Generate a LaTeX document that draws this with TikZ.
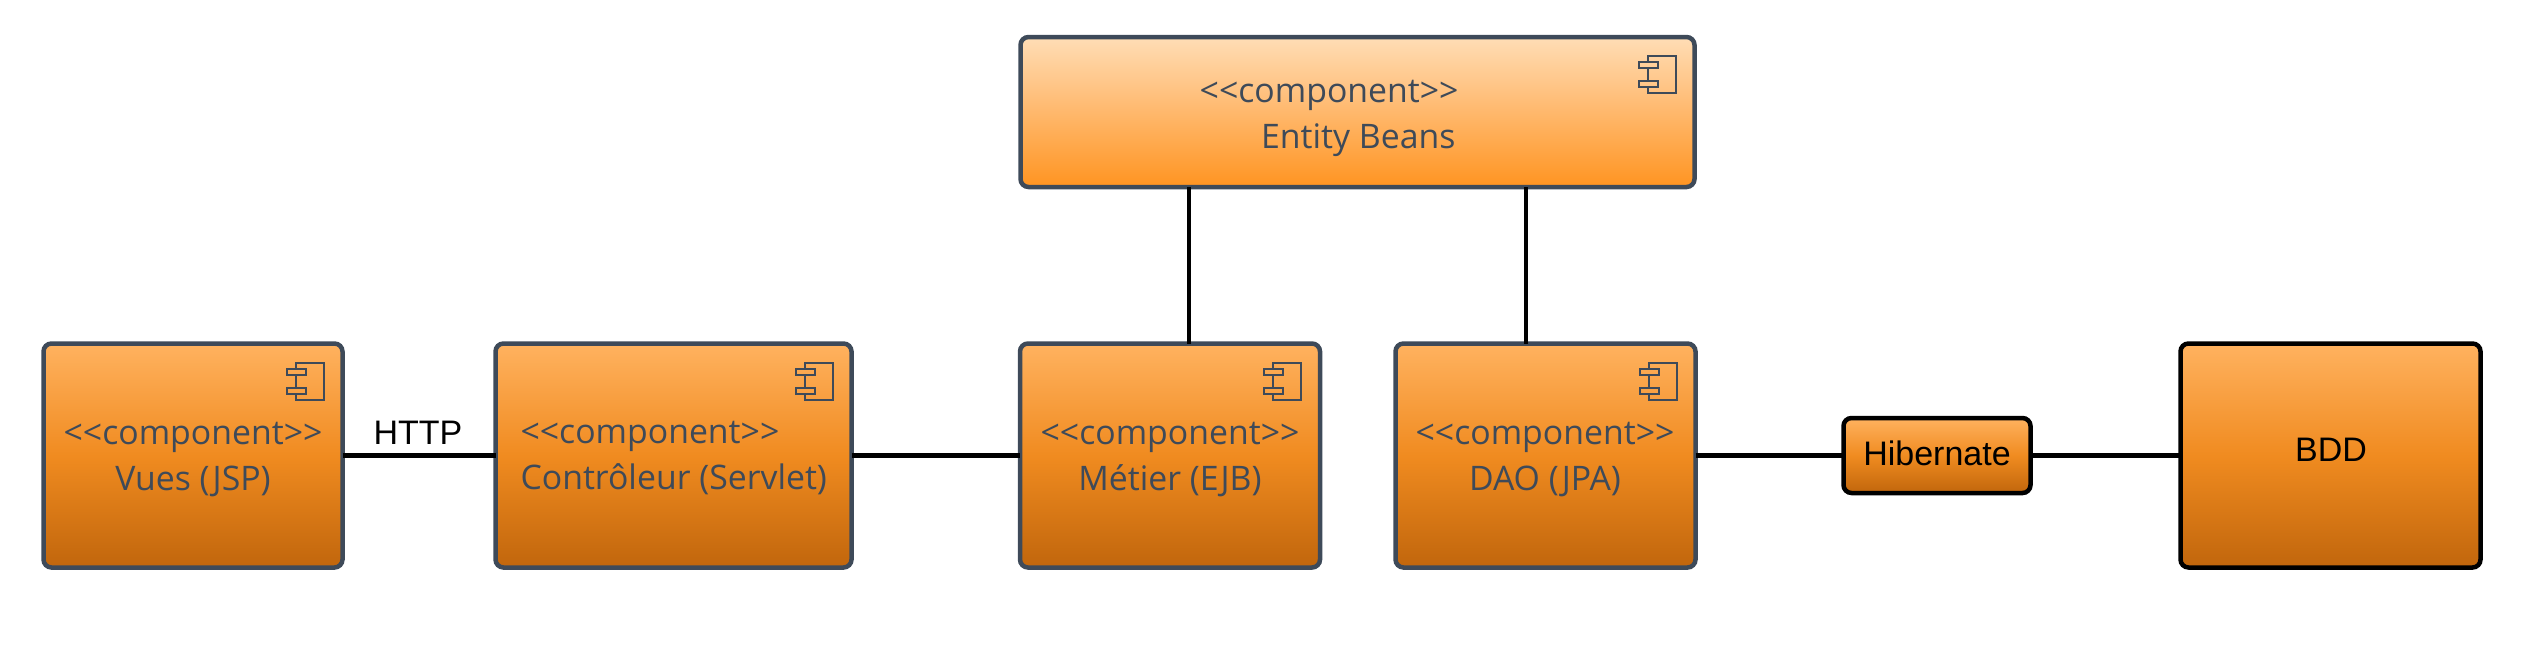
\documentclass[tikz,border=0pt]{standalone}
\usepackage{fontspec}
\setmainfont{Liberation Sans}
\newfontfamily\compfont{Open Sans}
\definecolor{ardoise}{HTML}{3E4A59}
\definecolor{orangehaut}{HTML}{FFB25F}
\definecolor{orangemilieu}{HTML}{F08B20}
\definecolor{orangebas}{HTML}{C1660C}
\definecolor{clairhaut}{HTML}{FFDDB6}
\definecolor{clairmilieu}{HTML}{FFB86C}
\definecolor{clairbas}{HTML}{FF9421}
\newcommand{\icone}[1]{
\begin{scope}[shift={(#1.north east)}]
\draw[iconetrait] (-47,25) -- (-47,19) -- (-19,19) -- (-19,56) -- (-47,56) -- (-47,50);
\draw[iconetrait] (-47,31) -- (-47,44);
\draw[iconetrait] (-56,25) rectangle (-37,31);
\draw[iconetrait] (-56,44) rectangle (-37,50);
\end{scope}
}
\begin{document}
\begin{tikzpicture}[x=1pt, y=-1pt]
\tikzset{boite/.style={draw=ardoise, line width=4.5pt, rounded corners=8pt, outer sep=0pt, inner sep=0pt,
  top color=orangehaut, bottom color=orangebas, middle color=orangemilieu, minimum height=224pt}}
\tikzset{boitenoire/.style={boite, draw=black}}
\tikzset{iconetrait/.style={draw=ardoise, line width=2pt}}
\tikzset{titre/.style={font=\compfont\fontsize{33.8}{46}\selectfont, text=ardoise}}
\tikzset{texte/.style={font=\fontsize{34}{40}\selectfont, text=black}}
\tikzset{lien/.style={draw=black, line width=4.5pt}}
\useasboundingbox (0,0) rectangle (2525,646);
\node[boite, minimum width=299pt] (vues) at (193,455.5) {};
\node[boite, minimum width=356pt] (controleur) at (673.5,455.5) {};
\node[boite, minimum width=300pt] (metier) at (1170,455.5) {};
\node[boite, minimum width=300pt] (dao) at (1545.5,455.5) {};
\node[boite, minimum width=674pt, minimum height=150pt, top color=clairhaut, bottom color=clairbas, middle color=clairmilieu] (entity) at (1357.5,112) {};
\node[boitenoire, minimum width=187pt, minimum height=75pt] (hibernate) at (1937,455.5) {};
\node[boitenoire, minimum width=300pt] (bdd) at (2330.5,455.5) {};
\node[titre, align=center] (vuesT) at (193,460) {<<component>>\\Vues (JSP)};
\node[titre, align=left, anchor=west] (controleurT) at (517,458) {<<component>>\\Contrôleur (Servlet)};
\node[titre, align=center] (metierT) at (1170,460) {<<component>>\\Métier (EJB)};
\node[titre, align=center] (daoT) at (1545,460) {<<component>>\\DAO (JPA)};
\node[titre, align=right, anchor=east] (entityT) at (1462,118) {<<component>>\\Entity Beans\hspace*{3pt}};
\node[texte] (hibernateT) at (1937,453) {Hibernate};
\node[texte] (bddT) at (2331,450) {BDD};
\node[texte] (http) at (418,433) {HTTP};
\icone{vues}
\icone{controleur}
\icone{metier}
\icone{dao}
\icone{entity}
\draw[lien] (vues.east) -- (controleur.west);
\draw[lien] (controleur.east) -- (metier.west);
\draw[lien] (dao.east) -- (hibernate.west);
\draw[lien] (hibernate.east) -- (bdd.west);
\draw[lien] ([xshift=-168.5pt]entity.south) -- ([xshift=19pt]metier.north);
\draw[lien] ([xshift=168.5pt]entity.south) -- ([xshift=-19.5pt]dao.north);
\end{tikzpicture}
\end{document}
